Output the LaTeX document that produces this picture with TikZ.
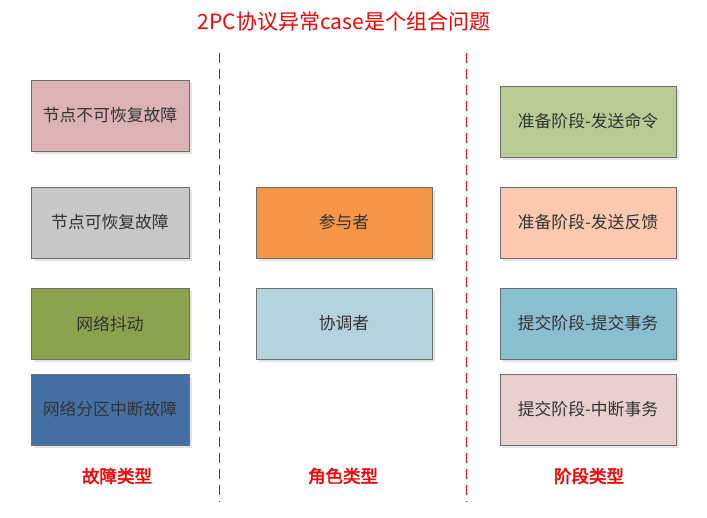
\documentclass[tikz,border=0pt]{standalone}
\usepackage{fontspec}
\setmainfont{Noto Sans CJK SC}
\newfontfamily\cjkbold[FakeBold=2.5]{Noto Sans CJK SC}
\usetikzlibrary{shadows}
\definecolor{c1}{HTML}{DDB2B3}
\definecolor{c2}{HTML}{C8C8C8}
\definecolor{c3}{HTML}{8AA34D}
\definecolor{c4}{HTML}{4570A5}
\definecolor{c5}{HTML}{F79646}
\definecolor{c6}{HTML}{B3D3DF}
\definecolor{c7}{HTML}{B7CB93}
\definecolor{c8}{HTML}{FBC9AF}
\definecolor{c9}{HTML}{8ABED1}
\definecolor{c10}{HTML}{E8D0D0}
\definecolor{bord}{HTML}{6E6E6E}
\definecolor{txt}{HTML}{333333}
\definecolor{shad}{HTML}{E4E4E4}
\begin{document}
\begin{tikzpicture}[x=1pt,y=-1pt,
  box/.style={draw=bord,line width=1pt,minimum width=158pt,minimum height=71pt,inner sep=0pt,
    text=txt,font=\fontsize{16.8}{19}\selectfont,
    drop shadow={shadow xshift=3pt,shadow yshift=-3pt,fill=shad,opacity=1}},
  wbox/.style={box,minimum width=176pt},
  cat/.style={text=red,font=\cjkbold\fontsize{17.5}{20}\selectfont},
  sep/.style={draw=red,line width=0.8pt,dash pattern=on 10pt off 6pt}]
\useasboundingbox (0,0) rectangle (707,517);
\fill[white] (0,0) rectangle (707,517);
\node[text=red,font=\fontsize{21}{24}\selectfont] (title) at (344,22) {2PC协议异常case是个组合问题};
\coordinate (s1t) at (219,53); \coordinate (s1b) at (219,502);
\coordinate (s2t) at (466,53); \coordinate (s2b) at (466,502);
\draw[sep] (s1t) -- (s1b);
\draw[sep] (s2t) -- (s2b);
\node[box,fill=c1] (f1) at (110,115.5) {节点不可恢复故障};
\node[box,fill=c2] (f2) at (110,222.5) {节点可恢复故障};
\node[box,fill=c3] (f3) at (110,323.5) {网络抖动};
\node[box,fill=c4] (f4) at (110,409.5) {网络分区中断故障};
\node[wbox,fill=c5] (r1) at (344,222.5) {参与者};
\node[wbox,fill=c6] (r2) at (344,323.5) {协调者};
\node[wbox,fill=c7] (p1) at (588,121.5) {准备阶段-发送命令};
\node[wbox,fill=c8] (p2) at (588,222.5) {准备阶段-发送反馈};
\node[wbox,fill=c9] (p3) at (588,323.5) {提交阶段-提交事务};
\node[wbox,fill=c10] (p4) at (588,409.5) {提交阶段-中断事务};
\node[cat] (l1) at (117,476) {故障类型};
\node[cat] (l2) at (343,476) {角色类型};
\node[cat] (l3) at (589,476) {阶段类型};
\end{tikzpicture}
\end{document}
